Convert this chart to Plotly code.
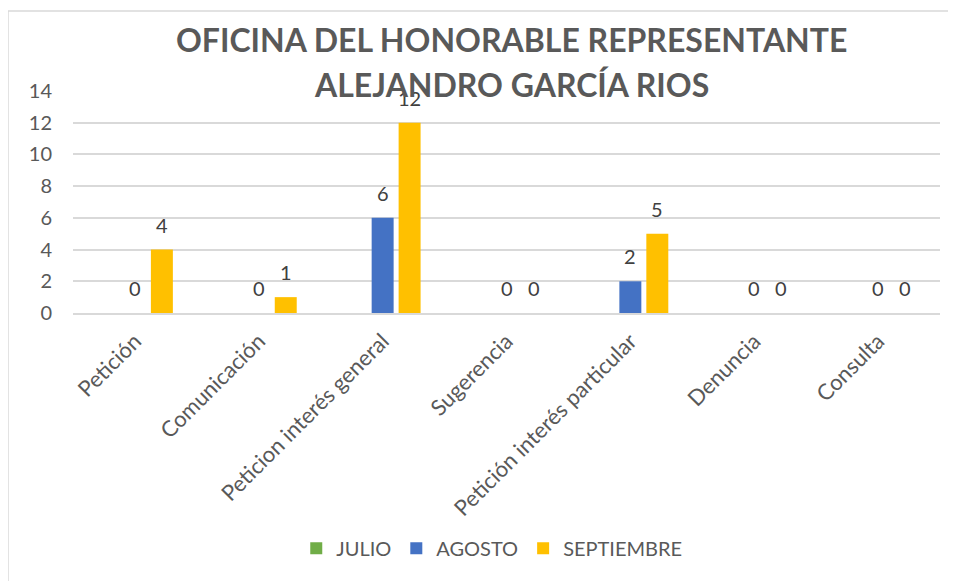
import plotly.graph_objects as go

categories = ["Petición", "Comunicación", "Peticion interés general", "Sugerencia",
              "Petición interés particular", "Denuncia", "Consulta"]
julio = [None, None, None, None, None, None, None]
agosto = [0, 0, 6, 0, 2, 0, 0]
septiembre = [4, 1, 12, 0, 5, 0, 0]
series_names = ["JULIO", "AGOSTO", "SEPTIEMBRE"]
y_ticks = [0, 2, 4, 6, 8, 10, 12, 14]

colors = ["#70AD47", "#4472C4", "#FFC000"]
FONT = "Lato"
GRAY = "#595959"

fig = go.Figure()
for name, vals, col in zip(series_names, [julio, agosto, septiembre], colors):
    fig.add_trace(go.Bar(x=categories, y=vals, name=name, marker_color=col,
                         marker_line_width=0))

# data labels
shifts = [-27, 0, 27]
for vals, xs in zip([julio, agosto, septiembre], shifts):
    for c, v in zip(categories, vals):
        if v is None:
            continue
        fig.add_annotation(x=c, y=v, text=str(v), showarrow=False, xshift=xs, yshift=25,
                           yanchor="middle", font=dict(family=FONT, size=20, color="#404040"))

# title
fig.add_annotation(xref="paper", yref="paper", x=0.506, y=1.23, text="<b>OFICINA DEL HONORABLE REPRESENTANTE</b>",
                   showarrow=False, xanchor="center", yanchor="middle",
                   font=dict(family=FONT, size=32, color=GRAY))
fig.add_annotation(xref="paper", yref="paper", x=0.506, y=1.03, text="<b>ALEJANDRO GARCÍA RIOS</b>",
                   showarrow=False, xanchor="center", yanchor="middle",
                   font=dict(family=FONT, size=32, color=GRAY))

# chart border
fig.add_shape(type="rect", xref="paper", yref="paper", x0=-0.075, x1=1.2, y0=-1.4, y1=1.36,
              line=dict(color="#D9D9D9", width=1.5), layer="below")

fig.update_layout(
    width=948, height=573,
    margin=dict(l=65, r=16, t=83, b=268),
    paper_bgcolor="white", plot_bgcolor="white",
    barmode="group", bargap=0.347, bargroupgap=0.185,
    showlegend=True,
    legend=dict(orientation="h", x=0.483, y=-1.06, xanchor="center", yanchor="middle",
                font=dict(family=FONT, size=20, color=GRAY), itemwidth=30,
                traceorder="normal"),
    font=dict(family=FONT, color=GRAY),
)
fig.update_yaxes(range=[0, 14], tickvals=y_ticks, showgrid=True, gridcolor="#D9D9D9", gridwidth=1.5,
                 zeroline=False, showline=False, tickfont=dict(family=FONT, size=20, color=GRAY),
                 ticklabelstandoff=20, fixedrange=True)
fig.update_xaxes(showgrid=False, showline=True, linecolor="#D9D9D9", linewidth=1.5,
                 tickangle=-45, tickfont=dict(family=FONT, size=22, color=GRAY),
                 ticklabelstandoff=5, ticks="")

fig.write_html("out.html")
